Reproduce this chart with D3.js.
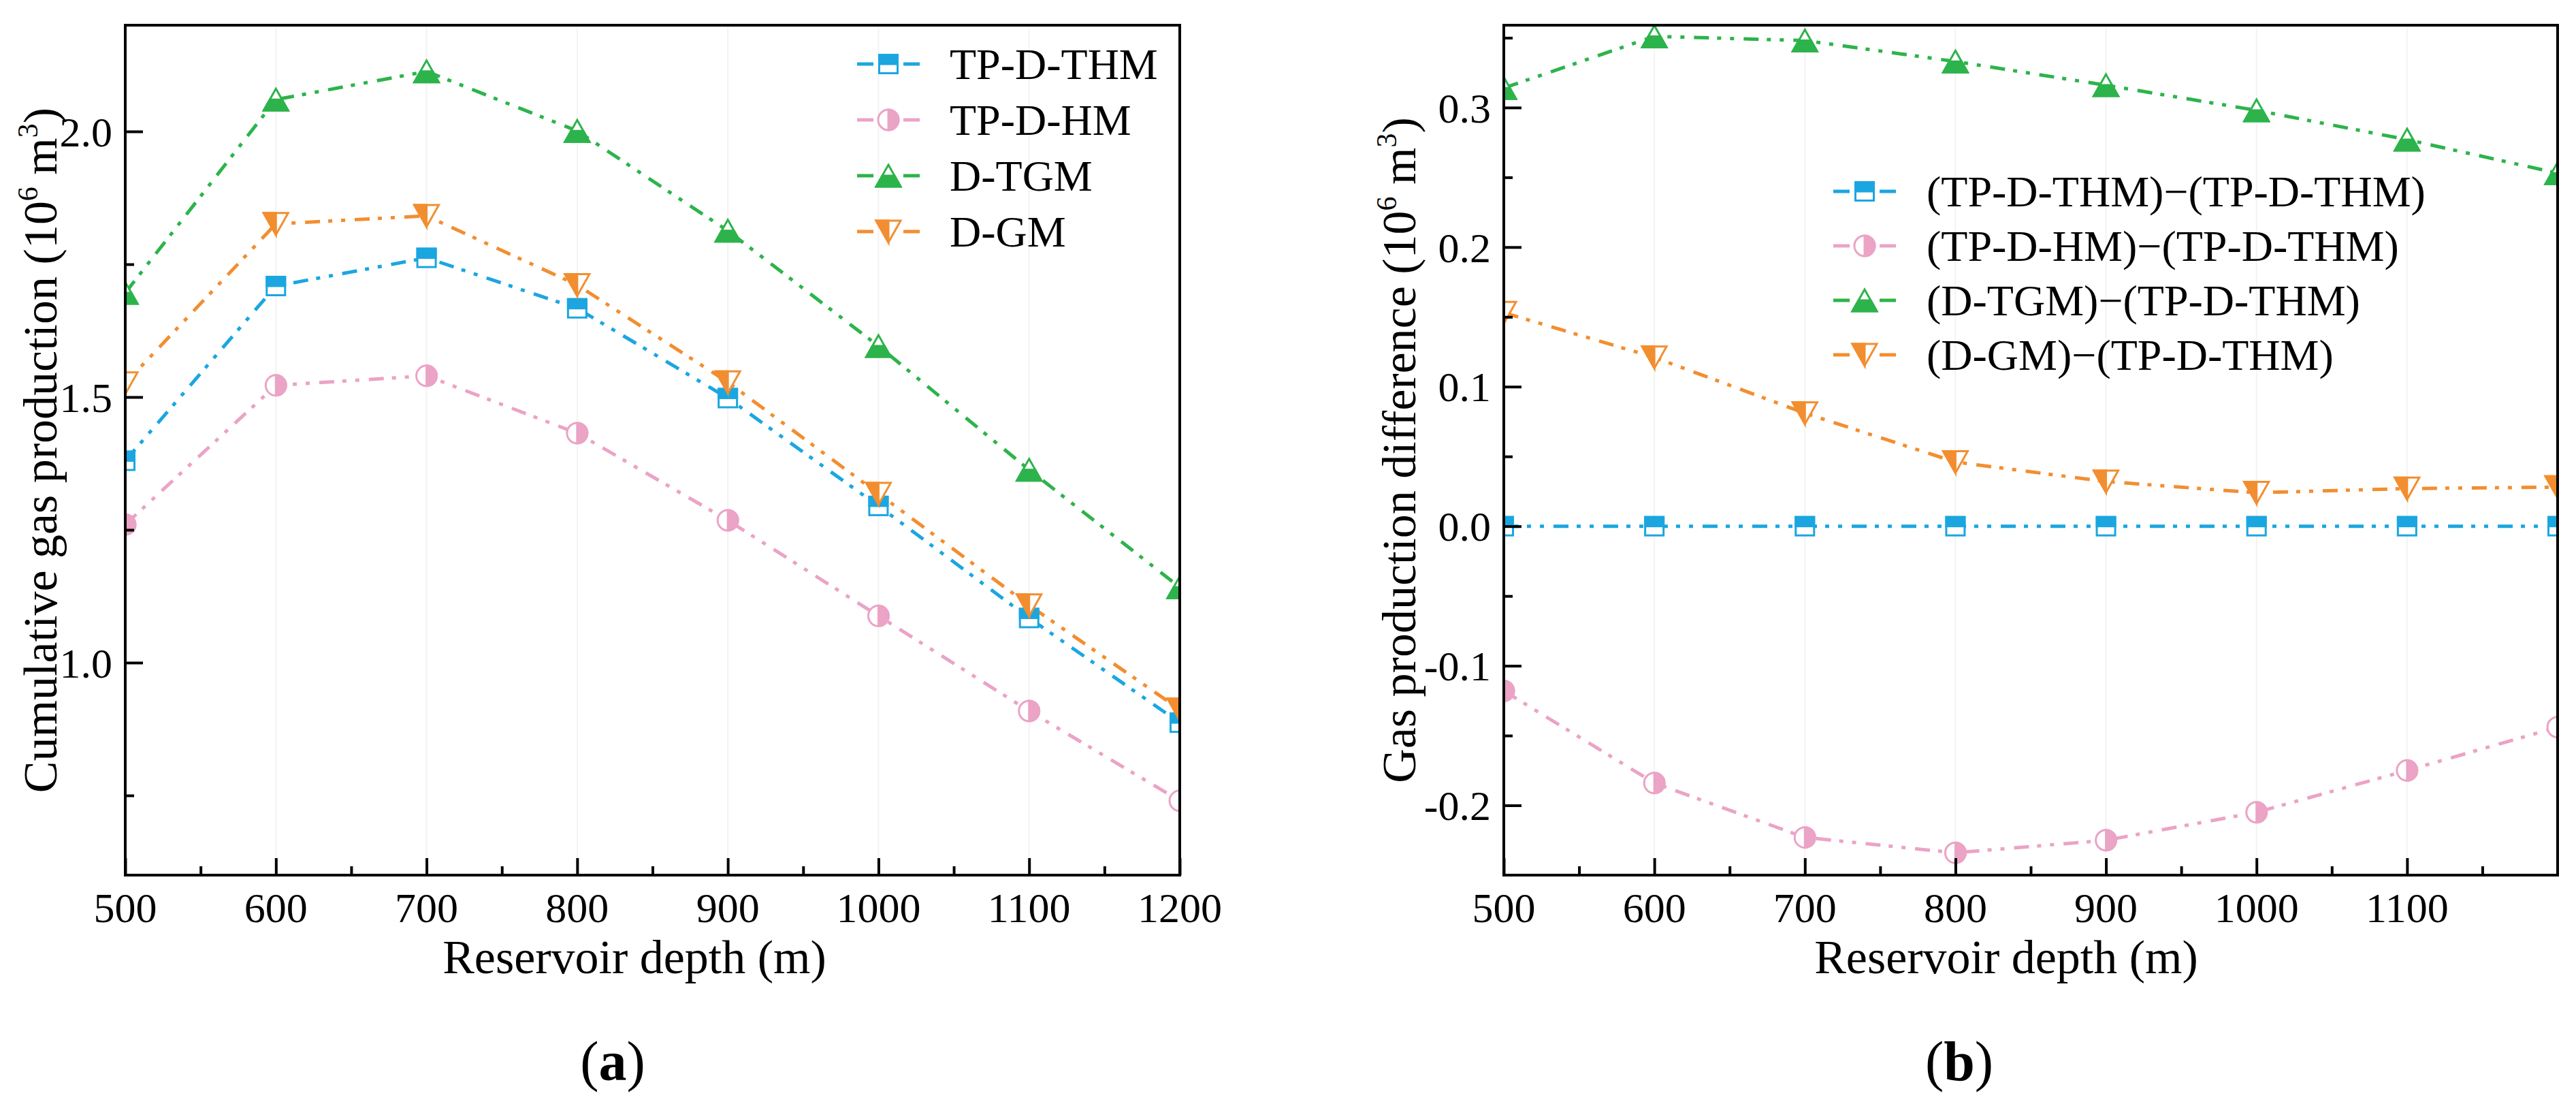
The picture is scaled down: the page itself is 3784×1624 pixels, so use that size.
<!DOCTYPE html>
<html>
<head>
<meta charset="utf-8">
<script src="https://cdn.jsdelivr.net/npm/d3@7"></script>
<style>
html,body{margin:0;padding:0;background:#fff;}
svg text{font-family:"Liberation Serif","Times New Roman",serif;fill:#000;}
</style>
</head>
<body>
<svg id="chart" width="3784" height="1624"></svg>
<script>
// ---------- data ----------
const depths = [500, 600, 700, 800, 900, 1000, 1100, 1200];
const seriesNamesA = ["TP-D-THM", "TP-D-HM", "D-TGM", "D-GM"];
const seriesNamesB = ["(TP-D-THM)\u2212(TP-D-THM)", "(TP-D-HM)\u2212(TP-D-THM)", "(D-TGM)\u2212(TP-D-THM)", "(D-GM)\u2212(TP-D-THM)"];
const thmA = [1.380, 1.709, 1.762, 1.667, 1.498, 1.295, 1.084, 0.887];
const hmA  = [1.260, 1.522, 1.540, 1.432, 1.268, 1.088, 0.909, 0.740];
const tgmA = [1.696, 2.060, 2.113, 2.001, 1.813, 1.596, 1.363, 1.142];
const gmA  = [1.526, 1.826, 1.841, 1.711, 1.528, 1.318, 1.108, 0.912];
const thmB = [0, 0, 0, 0, 0, 0, 0, 0];
const hmB  = [-0.118, -0.184, -0.223, -0.234, -0.225, -0.205, -0.175, -0.144];
const tgmB = [0.314, 0.351, 0.348, 0.333, 0.316, 0.298, 0.277, 0.253];
const gmB  = [0.153, 0.121, 0.081, 0.046, 0.032, 0.024, 0.027, 0.028];
const xTicksA = [500, 600, 700, 800, 900, 1000, 1100, 1200];
const xTicksB = [500, 600, 700, 800, 900, 1000, 1100];
const yTicksA = [1.0, 1.5, 2.0];
const yTicksB = [-0.2, -0.1, 0.0, 0.1, 0.2, 0.3];

// ---------- style ----------
const colors = ["#1ba6e0", "#eba3c6", "#2db34b", "#f28e30"];
const shapes = ["square", "circle", "up", "down"];
const FONT = 62;

const svg = d3.select("#chart");

function marker(g, shape, color, cx, cy) {
  const sw = 3;
  if (shape === "square") {
    const s = 27;
    g.append("rect").attr("x", cx - s/2).attr("y", cy - s/2).attr("width", s).attr("height", s)
      .attr("fill", "#fff").attr("stroke", color).attr("stroke-width", sw);
    g.append("rect").attr("x", cx - s/2).attr("y", cy - s/2).attr("width", s).attr("height", s/2)
      .attr("fill", color).attr("stroke", color).attr("stroke-width", sw);
  } else if (shape === "circle") {
    const r = 15;
    g.append("circle").attr("cx", cx).attr("cy", cy).attr("r", r)
      .attr("fill", "#fff").attr("stroke", color).attr("stroke-width", sw);
    g.append("path").attr("d", `M${cx},${cy - r} A${r},${r} 0 0 1 ${cx},${cy + r} Z`)
      .attr("fill", color).attr("stroke", color).attr("stroke-width", sw);
  } else if (shape === "up") {
    const w = 18, h = 16;
    g.append("path").attr("d", `M${cx},${cy - h} L${cx + w},${cy + h} L${cx - w},${cy + h} Z`)
      .attr("fill", "#fff").attr("stroke", color).attr("stroke-width", sw);
    g.append("path").attr("d", `M${cx - w/2},${cy} L${cx + w/2},${cy} L${cx + w},${cy + h} L${cx - w},${cy + h} Z`)
      .attr("fill", color).attr("stroke", color).attr("stroke-width", sw);
  } else {
    const w = 18, h = 16;
    g.append("path").attr("d", `M${cx - w},${cy - h} L${cx + w},${cy - h} L${cx},${cy + h} Z`)
      .attr("fill", "#fff").attr("stroke", color).attr("stroke-width", sw);
    g.append("path").attr("d", `M${cx - w},${cy - h} L${cx},${cy - h} L${cx},${cy + h} Z`)
      .attr("fill", color).attr("stroke", color).attr("stroke-width", sw);
  }
}

function panel(opts) {
  const {id, left, right, top, bottom, yDomain, series, xTicks, xMinor, yTicks, yMinor,
         yFmt, yTitleX, yTitle, xTitleX, labelX, labelLetter, legend} = opts;
  const x = d3.scaleLinear().domain([500, 1200]).range([left, right]);
  const y = d3.scaleLinear().domain(yDomain).range([bottom, top]);
  const g = svg.append("g");

  // faint vertical grid
  g.append("g").selectAll("line").data(xTicks.slice(1)).join("line")
    .attr("x1", d => x(d)).attr("x2", d => x(d)).attr("y1", top).attr("y2", bottom)
    .attr("stroke", "#f3f3f3").attr("stroke-width", 2);

  // clip
  svg.append("clipPath").attr("id", "clip" + id).append("rect")
    .attr("x", left).attr("y", top).attr("width", right - left).attr("height", bottom - top);
  const plot = g.append("g").attr("clip-path", `url(#clip${id})`);

  const line = d3.line().x((d, i) => x(depths[i])).y(d => y(d));
  series.forEach((vals, k) => {
    plot.append("path").attr("d", line(vals)).attr("fill", "none")
      .attr("stroke", colors[k]).attr("stroke-width", 5)
      .attr("stroke-dasharray", "22,12,6,13,6,14");
  });
  series.forEach((vals, k) => {
    vals.forEach((v, i) => marker(plot, shapes[k], colors[k], x(depths[i]), y(v)));
  });

  // frame
  g.append("rect").attr("x", left).attr("y", top).attr("width", right - left).attr("height", bottom - top)
    .attr("fill", "none").attr("stroke", "#000").attr("stroke-width", 4);

  // x axis ticks (inward)
  const xAxis = d3.axisTop(x).tickValues(xTicks).tickSize(25).tickFormat("");
  const gx = g.append("g").attr("transform", `translate(0,${bottom})`).call(xAxis);
  gx.select(".domain").remove();
  gx.selectAll("line").attr("stroke", "#000").attr("stroke-width", 4);
  const xAxisMinor = d3.axisTop(x).tickValues(xMinor).tickSize(13).tickFormat("");
  const gxm = g.append("g").attr("transform", `translate(0,${bottom})`).call(xAxisMinor);
  gxm.select(".domain").remove();
  gxm.selectAll("line").attr("stroke", "#000").attr("stroke-width", 4);
  g.append("g").selectAll("text").data(xTicks).join("text")
    .attr("x", d => x(d)).attr("y", 1354).attr("text-anchor", "middle")
    .attr("font-size", FONT).text(d => d);

  // y axis ticks (inward)
  const yAxis = d3.axisRight(y).tickValues(yTicks).tickSize(26).tickFormat("");
  const gy = g.append("g").attr("transform", `translate(${left},0)`).call(yAxis);
  gy.select(".domain").remove();
  gy.selectAll("line").attr("stroke", "#000").attr("stroke-width", 4);
  const yAxisMinor = d3.axisRight(y).tickValues(yMinor).tickSize(13).tickFormat("");
  const gym = g.append("g").attr("transform", `translate(${left},0)`).call(yAxisMinor);
  gym.select(".domain").remove();
  gym.selectAll("line").attr("stroke", "#000").attr("stroke-width", 4);
  g.append("g").selectAll("text").data(yTicks).join("text")
    .attr("x", left - 19).attr("y", d => y(d)).attr("dy", "0.35em").attr("text-anchor", "end")
    .attr("font-size", FONT).text(yFmt);

  // axis titles
  g.append("text").attr("x", xTitleX).attr("y", 1429).attr("text-anchor", "middle")
    .attr("font-size", 70).text("Reservoir depth (m)");
  const yt = g.append("text").attr("transform", `translate(${yTitleX},${(top + bottom) / 2}) rotate(-90)`)
    .attr("text-anchor", "middle").attr("font-size", 70);
  yt.append("tspan").text(yTitle + " (10");
  yt.append("tspan").attr("font-size", 42).attr("dy", -28).text("6");
  yt.append("tspan").attr("dy", 28).text(" m");
  yt.append("tspan").attr("font-size", 42).attr("dy", -28).text("3");
  yt.append("tspan").attr("dy", 28).text(")");

  // panel label
  const lab = g.append("text").attr("x", labelX).attr("y", 1586).attr("text-anchor", "middle").attr("font-size", 82);
  lab.append("tspan").text("(");
  lab.append("tspan").attr("font-weight", "bold").text(labelLetter);
  lab.append("tspan").text(")");

  // legend
  const lg = g.append("g");
  legend.names.forEach((name, k) => {
    const cy = legend.rows[k];
    const cx = legend.mx;
    lg.append("line").attr("x1", cx - 46).attr("x2", cx - 22).attr("y1", cy).attr("y2", cy)
      .attr("stroke", colors[k]).attr("stroke-width", 5);
    lg.append("line").attr("x1", cx + 22).attr("x2", cx + 46).attr("y1", cy).attr("y2", cy)
      .attr("stroke", colors[k]).attr("stroke-width", 5);
    marker(lg, shapes[k], colors[k], cx, cy);
    lg.append("text").attr("x", legend.tx).attr("y", cy).attr("dy", "0.35em")
      .attr("font-size", 64).text(name);
  });
}

panel({
  id: "a", left: 184, right: 1733, top: 37, bottom: 1285,
  yDomain: [0.6, 2.2],
  series: [thmA, hmA, tgmA, gmA],
  xTicks: xTicksA, xMinor: [550, 650, 750, 850, 950, 1050, 1150],
  yTicks: yTicksA, yMinor: [0.75, 1.25, 1.75],
  yFmt: d => d3.format(".1f")(d),
  yTitleX: 83, yTitle: "Cumulative gas production",
  xTitleX: 932, labelX: 900, labelLetter: "a",
  legend: {names: seriesNamesA, rows: [94, 176, 258, 340], mx: 1305, tx: 1395}
});

panel({
  id: "b", left: 2209, right: 3757, top: 37, bottom: 1285,
  yDomain: [-0.25, 0.359],
  series: [thmB, hmB, tgmB, gmB],
  xTicks: xTicksB, xMinor: [550, 650, 750, 850, 950, 1050, 1150],
  yTicks: yTicksB, yMinor: [-0.15, -0.05, 0.05, 0.15, 0.25, 0.35],
  yFmt: d => d3.format(".1f")(d).replace("\u2212", "-"),
  yTitleX: 2079, yTitle: "Gas production difference",
  xTitleX: 2947, labelX: 2878, labelLetter: "b",
  legend: {names: seriesNamesB, rows: [281, 361, 441, 521], mx: 2739, tx: 2830}
});
</script>
</body>
</html>
